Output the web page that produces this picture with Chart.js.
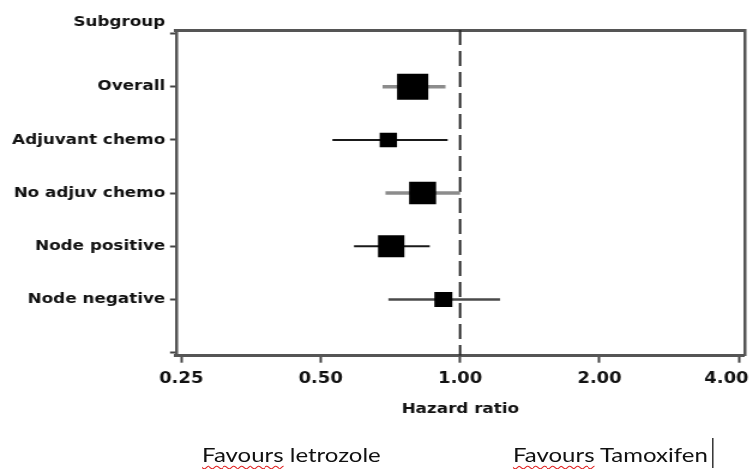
<!DOCTYPE html>
<html>
<head>
<meta charset="utf-8">
<script src="https://cdn.jsdelivr.net/npm/chart.js@4.4.1/dist/chart.umd.min.js"></script>
<style>
  html, body { margin: 0; padding: 0; background: #ffffff; overflow: hidden; }
  #c { position: absolute; left: 0; top: 0; width: 782.97px !important; height: 430px !important; }
  #wrap { position: absolute; left: 0; top: 0; width: 628px; height: 469px; transform: scaleX(1.19904); transform-origin: 0 0; }
  .fav { position: absolute; top: 442px; font-family: Lato, "Liberation Sans", sans-serif; font-size: 20px; line-height: 24px; color: #111; white-space: nowrap; }
  .sp { text-decoration: underline wavy #e02020; text-decoration-thickness: 1px; text-underline-offset: 3px; text-decoration-skip-ink: none; }
  #caret { position: absolute; left: 594px; top: 438px; width: 0; height: 30px; border-left: 1.7px solid #000; }
</style>
</head>
<body>
<canvas id="c" width="653" height="430"></canvas>
<div id="wrap">
  <div class="fav" style="left:168.5px"><span class="sp">Favours</span> letrozole</div>
  <div class="fav" style="left:427.8px"><span class="sp">Favours</span> Tamoxifen</div>
  <div id="caret"></div>
</div>
<script>
// ---- data ----
const categories = ['Subgroup', 'Overall', 'Adjuvant chemo', 'No adjuv chemo', 'Node positive', 'Node negative', ''];
const subgroups = ['Overall', 'Adjuvant chemo', 'No adjuv chemo', 'Node positive', 'Node negative'];
const hazardRatio = [0.79, 0.70, 0.83, 0.71, 0.92];
const ciLower = [0.68, 0.53, 0.69, 0.59, 0.70];
const ciUpper = [0.93, 0.94, 1.00, 0.86, 1.22];
const xTickValues = [0.25, 0.5, 1, 2, 4];
const xTickLabels = ['0.25', '0.50', '1.00', '2.00', '4.00'];
const referenceValue = 1;

// ---- styles ----
const boxSide = [26, 14.5, 22.5, 22, 15];
const whiskerColor = ['#8c8c8c', '#1a1a1a', '#8c8c8c', '#1a1a1a', '#4a4a4a'];
const whiskerWidth = [3.5, 2, 3.5, 2, 2.5];
const axisColor = '#555555';
const labelFont = { family: '"DejaVu Sans", sans-serif', weight: 'bold', size: 14 };

const yMin = -0.07, yMax = 6.06;

const datasets = [];
datasets.push({
  label: 'Hazard ratio',
  data: hazardRatio.map((v, i) => ({ x: v, y: i + 1 })),
  pointStyle: 'rect',
  pointRadius: boxSide.map(s => s / Math.SQRT2),
  pointBorderWidth: 0,
  pointBackgroundColor: '#000000',
  showLine: false
});
subgroups.forEach((name, i) => {
  datasets.push({
    label: name + ' CI',
    data: [{ x: ciLower[i], y: i + 1 }, { x: ciUpper[i], y: i + 1 }],
    showLine: true,
    pointRadius: 0,
    borderColor: whiskerColor[i],
    borderWidth: whiskerWidth[i],
    borderCapStyle: 'butt'
  });
});
datasets.push({
  label: 'No effect',
  data: [{ x: referenceValue, y: yMin }, { x: referenceValue, y: yMax }],
  showLine: true,
  pointRadius: 0,
  borderColor: '#2a2a2a',
  borderWidth: 2,
  borderDash: [15, 6]
});

new Chart(document.getElementById('c'), {
  type: 'scatter',
  data: { datasets },
  options: {
    responsive: false,
    animation: false,
    events: [],
    layout: { padding: { top: 30, right: 0, bottom: 8.5, left: 0 } },
    plugins: { legend: { display: false }, tooltip: { enabled: false } },
    scales: {
      x: {
        type: 'logarithmic',
        position: 'bottom',
        min: 0.2436,
        max: 4.115,
        afterBuildTicks: s => { s.ticks = xTickValues.map(v => ({ value: v })); },
        ticks: {
          color: '#111',
          font: { family: '"DejaVu Sans", sans-serif', weight: 'bold', size: 15 },
          padding: 7.5,
          maxRotation: 0,
          autoSkip: false,
          callback: (v, i) => i === xTickLabels.length - 1 ? xTickLabels[i] + '\u2007\u2007' : xTickLabels[i]
        },
        grid: { drawOnChartArea: false, drawTicks: true, tickLength: 7, tickColor: '#444', tickWidth: 2 },
        border: { display: true, color: axisColor, width: 3 },
        title: {
          display: true,
          text: 'Hazard ratio',
          color: '#111',
          font: { family: '"DejaVu Sans", sans-serif', weight: 'bold', size: 14 },
          padding: { top: 5, bottom: 4 }
        }
      },
      y: {
        type: 'linear',
        reverse: true,
        min: yMin,
        max: yMax,
        afterBuildTicks: s => { s.ticks = categories.map((c, i) => ({ value: i })); },
        afterFit: s => { s.width = 146.8; },
        ticks: {
          color: '#111',
          padding: 4,
          autoSkip: false,
          font: ctx => Object.assign({}, labelFont, { lineHeight: ctx.index === 0 ? 1.6 : 1.2 }),
          callback: (v, i) => i === 0 ? [categories[i], ''] : categories[i]
        },
        grid: { drawOnChartArea: false, drawTicks: true, tickLength: 5, tickColor: '#444', tickWidth: 2 },
        border: { display: true, color: axisColor, width: 2.5 }
      },
      x2: {
        type: 'linear',
        position: 'top',
        ticks: { display: false },
        grid: { drawOnChartArea: false, drawTicks: false },
        border: { display: true, color: axisColor, width: 3 }
      },
      y2: {
        type: 'linear',
        position: 'right',
        ticks: { display: false },
        grid: { drawOnChartArea: false, drawTicks: false },
        border: { display: true, color: axisColor, width: 2.5 }
      }
    }
  }
});
</script>
</body>
</html>
